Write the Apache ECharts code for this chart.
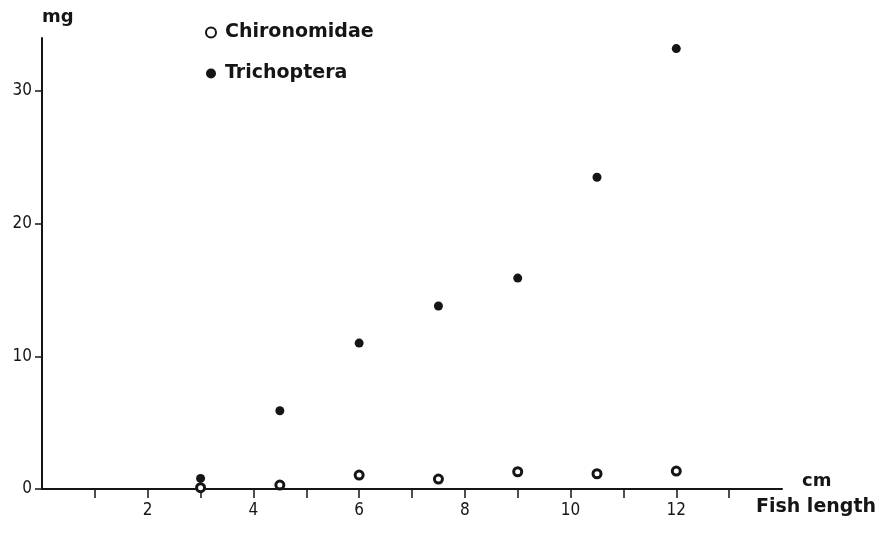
<!DOCTYPE html>
<html>
<head>
<meta charset="utf-8">
<script src="https://cdn.jsdelivr.net/npm/echarts@6/dist/echarts.min.js"></script>
<style>
  html, body { margin: 0; padding: 0; background: #fff; }
  #chart { width: 886px; height: 551px; }
</style>
</head>
<body>
<div id="chart"></div>
<script>
// fish length (cm)
const lengths = [3, 4.5, 6, 7.5, 9, 10.5, 12];
// dry weight of prey (mg)
const chironomidae = [0.1, 0.3, 1.05, 0.75, 1.3, 1.15, 1.35];
const trichoptera = [0.8, 5.9, 11.0, 13.8, 15.9, 23.5, 33.2];

const xTicks = [1, 2, 3, 4, 5, 6, 7, 8, 9, 10, 11, 12, 13];
const xLabels = [2, 4, 6, 8, 10, 12];
const yTicks = [0, 10, 20, 30];

const ink = '#151515';
const boldFont = 'bold 18px "DejaVu Sans"';
const chart = echarts.init(document.getElementById('chart'));

const pairs = (ys) => lengths.map((x, i) => [x, ys[i]]);

chart.setOption({
    backgroundColor: '#fff',
    animation: false,
    grid: { left: 42, right: 104, top: 38, bottom: 62 },
    legend: {
        orient: 'vertical',
        left: 200,
        top: 18,
        itemGap: 22,
        itemWidth: 10,
        itemHeight: 10,
        textStyle: { color: ink, fontSize: 19, fontWeight: 'bold', fontFamily: 'DejaVu Sans', padding: [0, 0, 0, 4] },
        data: ['Chironomidae', 'Trichoptera']
    },
    xAxis: {
        type: 'value',
        min: 0,
        max: 14,
        interval: 1,
        splitLine: { show: false },
        axisLine: { lineStyle: { color: ink, width: 2 } },
        axisTick: { inside: false, length: 9, customValues: xTicks, lineStyle: { color: ink, width: 1.5 } },
        axisLabel: { customValues: xLabels, color: ink, fontSize: 17, margin: 13, fontFamily: 'DejaVu Sans Condensed' }
    },
    yAxis: {
        type: 'value',
        min: 0,
        max: 34,
        interval: 10,
        name: 'mg',
        nameLocation: 'end',
        nameGap: 12,
        nameTextStyle: { color: ink, fontSize: 18, fontWeight: 'bold', fontFamily: 'DejaVu Sans', align: 'left' },
        splitLine: { show: false },
        axisLine: { show: true, lineStyle: { color: ink, width: 2 } },
        axisTick: { show: true, length: 7, customValues: yTicks, lineStyle: { color: ink, width: 1.5 } },
        axisLabel: { customValues: yTicks, color: ink, fontSize: 17, margin: 10, fontFamily: 'DejaVu Sans Condensed' }
    },
    graphic: [
        {
            type: 'text',
            left: 802,
            top: 472,
            style: { text: 'cm', fill: ink, font: boldFont }
        },
        {
            type: 'text',
            right: 10,
            top: 498,
            style: { text: 'Fish length', fill: ink, font: 'bold 19px "DejaVu Sans"' }
        }
    ],
    series: [
        {
            name: 'Chironomidae',
            type: 'scatter',
            symbol: 'circle',
            symbolSize: 8,
            itemStyle: { color: '#fff', borderColor: ink, borderWidth: 3, opacity: 1 },
            data: pairs(chironomidae)
        },
        {
            name: 'Trichoptera',
            type: 'scatter',
            symbol: 'circle',
            symbolSize: 9,
            itemStyle: { color: ink, opacity: 1 },
            data: pairs(trichoptera)
        }
    ]
});
</script>
</body>
</html>
